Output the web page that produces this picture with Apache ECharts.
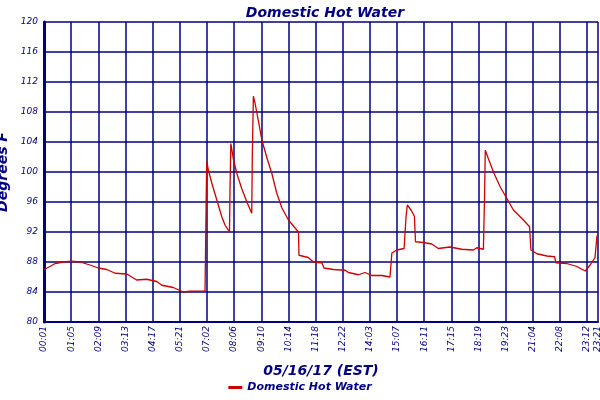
<!DOCTYPE html>
<html>
<head>
<meta charset="utf-8">
<script src="https://cdn.jsdelivr.net/npm/echarts@6/dist/echarts.min.js"></script>
<style>body{margin:0;background:#fff}#main{width:600px;height:400px}</style>
</head>
<body>
<div id="main"></div>
<script>
// sample position (one tick label every 10 samples) and temperature in deg F
const samples = [0,2.2,4.1,7.1,10.2,13.3,16.9,20,23.1,26.2,30.5,34.1,37.8,41.5,43.4,47.6,51.3,53.8,59.3,
  59.6,59.9,60.5,61.8,63.6,65.5,66.7,68.3,68.5,68.8,69.7,71,72.8,74.7,76.5,76.7,77.1,77.7,78.9,80.2,82,83.9,85.7,87.6,90,93.7,
  93.9,97.3,99.2,102.3,103.1,106.6,110.9,112.1,115.8,118.2,120.7,124.4,127.4,128.1,129.9,132.6,133.3,133.8,135.2,136.4,136.8,
  139.7,142.8,145.2,149.5,153.8,158.1,159.4,161.8,162.2,162.5,163.6,165.5,168,170.4,172.9,176,178.8,179.3,181.5,185.2,188,
  188.5,192.5,196.2,199.3,201.1,202.9,203.6,204];
const temps = [87.0,87.4,87.8,88.0,88.1,88.0,87.6,87.2,87.0,86.5,86.4,85.6,85.7,85.4,84.9,84.6,84.0,84.1,84.1,
  92.7,101.4,100.3,98.5,96.3,94.0,92.9,92.0,97.8,103.8,101.8,99.8,97.8,96.0,94.5,102.0,110.1,109.2,106.9,104.3,102.0,99.8,97.2,95.2,93.6,92.0,
  88.9,88.6,88.0,87.9,87.2,87.0,86.9,86.6,86.3,86.6,86.2,86.2,86.0,89.2,89.6,89.8,94.0,95.6,94.9,94.1,90.7,
  90.6,90.4,89.8,90.0,89.7,89.6,89.9,89.7,96.3,102.9,101.8,100.0,98.0,96.5,94.9,93.8,92.7,89.6,89.1,88.8,88.7,
  87.9,87.8,87.4,86.8,87.6,88.6,91.4,91.7];
const tickLabels = ['00:01','01:05','02:09','03:13','04:17','05:21','07:02','08:06','09:10','10:14','11:18',
  '12:22','14:03','15:07','16:11','17:15','18:19','19:23','21:04','22:08','23:12'];
const lastLabel = '23:21';

const navy = '#000080';
const font = {color: navy, fontStyle: 'italic', fontFamily: 'DejaVu Sans'};
const chart = echarts.init(document.getElementById('main'));
chart.setOption({
  animation: false,
  backgroundColor: '#fff',
  title: {text: 'Domestic Hot Water', left: 320, textAlign: 'center', top: 1,
    textStyle: Object.assign({}, font, {fontSize: 14, fontWeight: 'bold'})},
  legend: {bottom: 2, left: 'center', itemWidth: 14, itemHeight: 3, icon: 'rect',
    textStyle: Object.assign({}, font, {fontSize: 11, fontWeight: 'bold'})},
  grid: {left: 44, right: 2, top: 22, bottom: 78, containLabel: false, outerBoundsMode: 'none'},
  xAxis: {type: 'value', min: 0, max: 204, interval: 10,
    name: '05/16/17 (EST)', nameLocation: 'middle', nameGap: 42,
    nameTextStyle: Object.assign({}, font, {fontSize: 14, fontWeight: 'bold'}),
    axisLine: {show: true, lineStyle: {color: navy, width: 2}},
    axisTick: {show: false},
    splitLine: {show: true, lineStyle: {color: navy, width: 1.5}},
    axisLabel: Object.assign({}, font, {fontSize: 9, rotate: 90, margin: 4, showMaxLabel: true,
      formatter: v => v % 10 === 0 ? tickLabels[v / 10] : lastLabel})},
  yAxis: {type: 'value', min: 80, max: 120, interval: 4,
    name: 'Degrees F', nameLocation: 'middle', nameGap: 30,
    nameTextStyle: Object.assign({}, font, {fontSize: 14, fontWeight: 'bold'}),
    axisLine: {show: true, lineStyle: {color: navy, width: 3}},
    axisTick: {show: false},
    splitLine: {show: true, lineStyle: {color: navy, width: 1.5}},
    axisLabel: Object.assign({}, font, {fontSize: 9, margin: 6})},
  series: [{name: 'Domestic Hot Water', type: 'line', showSymbol: false,
    lineStyle: {color: '#cc0000', width: 1.3}, itemStyle: {color: '#cc0000'},
    data: samples.map((s, i) => [s, temps[i]])}]
});
</script>
</body>
</html>
